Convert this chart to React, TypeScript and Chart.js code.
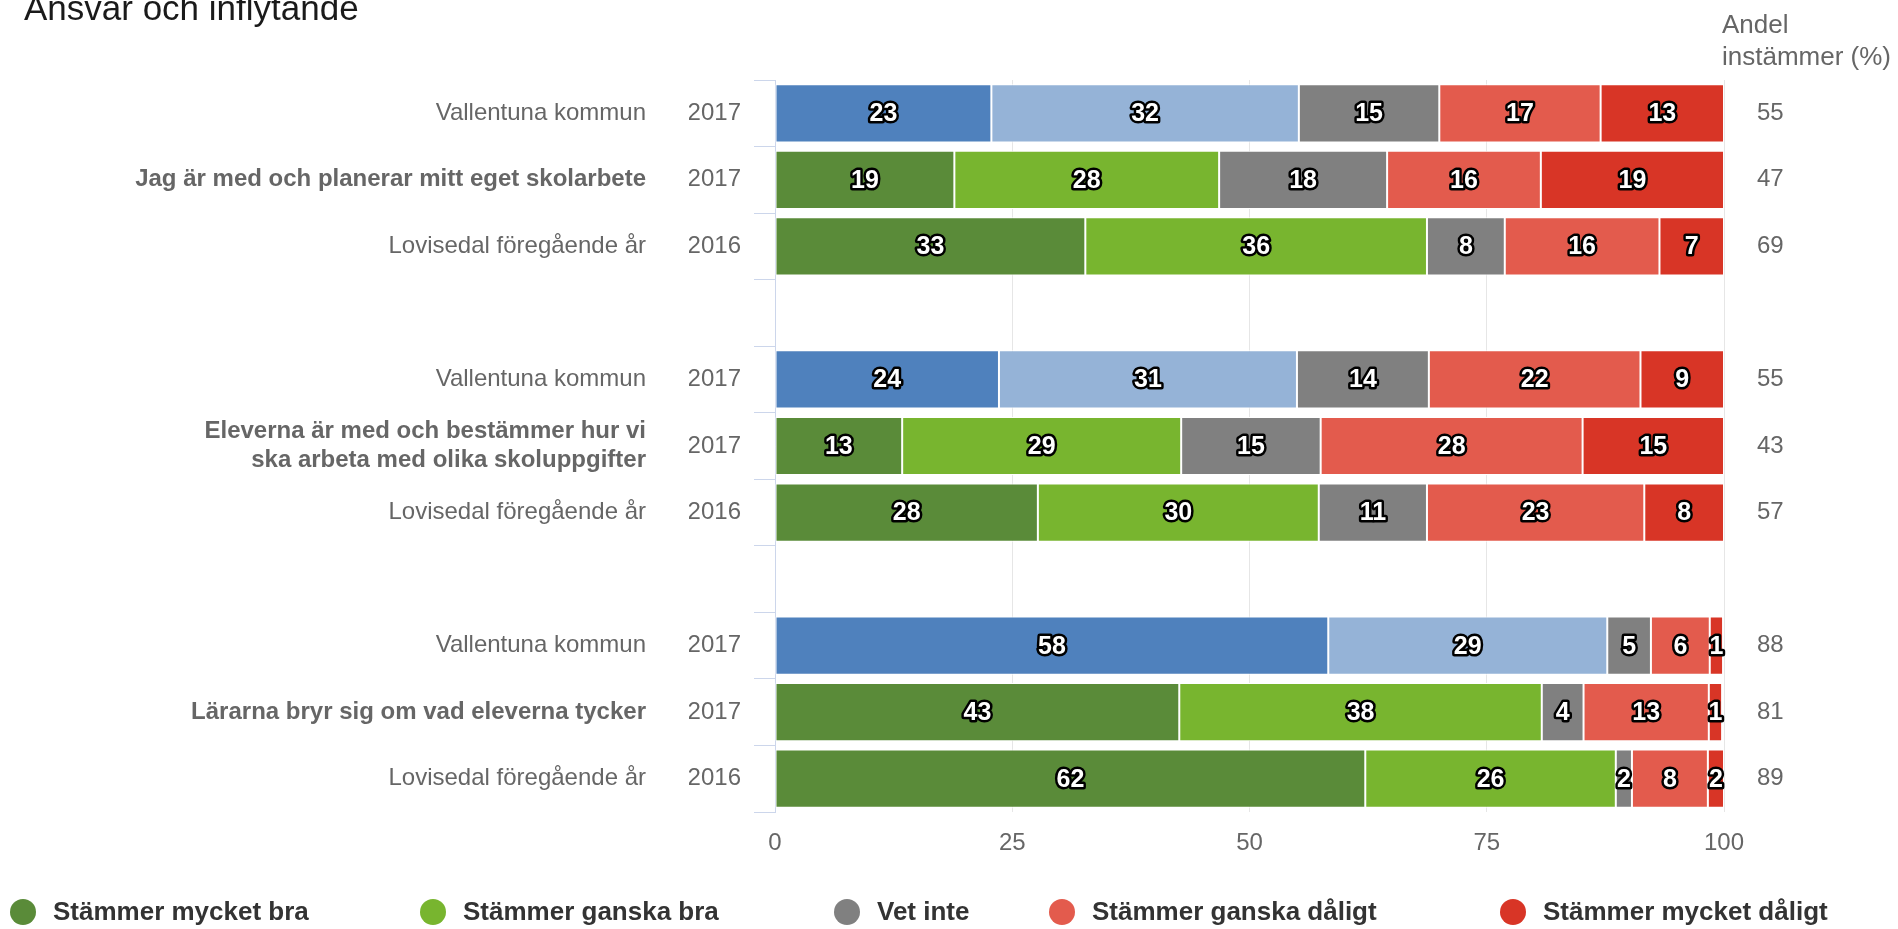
import React, { useEffect, useRef } from "react";
import { Chart, registerables } from "chart.js";

Chart.register(...registerables);

// ---- Data ----
const rowKeys = ["r0", "r1", "r2", "g1", "r4", "r5", "r6", "g2", "r8", "r9", "r10"];
const groupLabels: (string | string[])[] = [
  "Vallentuna kommun",
  "Jag är med och planerar mitt eget skolarbete",
  "Lovisedal föregående år",
  "",
  "Vallentuna kommun",
  ["Eleverna är med och bestämmer hur vi", "ska arbeta med olika skoluppgifter"],
  "Lovisedal föregående år",
  "",
  "Vallentuna kommun",
  "Lärarna bryr sig om vad eleverna tycker",
  "Lovisedal föregående år",
];
const yearLabels = ["2017", "2017", "2016", "", "2017", "2017", "2016", "", "2017", "2017", "2016"];
const andelLabels = ["55", "47", "69", "", "55", "43", "57", "", "88", "81", "89"];
const boldRows = [1, 5, 9];
const kommunRows = [0, 4, 8];

const seriesNames = [
  "Stämmer mycket bra",
  "Stämmer ganska bra",
  "Vet inte",
  "Stämmer ganska dåligt",
  "Stämmer mycket dåligt",
];
const mycketBra = [22.8, 18.9, 32.7, null, 23.6, 13.4, 27.7, null, 58.3, 42.6, 62.2];
const ganskaBra = [32.4, 27.9, 36.0, null, 31.4, 29.4, 29.6, null, 29.4, 38.2, 26.4];
const vetInte = [14.8, 17.7, 8.2, null, 13.9, 14.7, 11.4, null, 4.6, 4.4, 1.7];
const ganskaDaligt = [17.0, 16.2, 16.3, null, 22.3, 27.6, 22.9, null, 6.2, 13.2, 8.0];
const mycketDaligt = [13.0, 19.3, 6.8, null, 8.8, 14.9, 8.4, null, 1.4, 1.4, 1.7];
const xTicks = [0, 25, 50, 75, 100];

const seriesColors = ["#5a8b39", "#78b52f", "#808080", "#e35b4d", "#d83526"];
const kommunColors = ["#4f81bd", "#95b3d7", "#808080", "#e35b4d", "#d83526"];

const FONT = '"Liberation Sans", Arial, Helvetica, sans-serif';

const legendX = [23, 433, 847, 1062, 1513];

const overlayPlugin = {
  id: "overlay",
  afterDatasetsDraw(chart: any) {
    const ctx = chart.ctx;
    ctx.save();
    ctx.font = `bold 25px ${FONT}`;
    ctx.textAlign = "center";
    ctx.textBaseline = "middle";
    ctx.lineJoin = "round";
    ctx.lineWidth = 5;
    ctx.strokeStyle = "#000";
    ctx.fillStyle = "#fff";
    chart.data.datasets.forEach((ds: any, i: number) => {
      const meta = chart.getDatasetMeta(i);
      meta.data.forEach((bar: any, j: number) => {
        const v = ds.data[j];
        if (v == null) return;
        const p = bar.getProps(["x", "y", "base"], true);
        const cx = (p.x + p.base) / 2;
        const t = String(Math.round(v));
        ctx.strokeText(t, cx, p.y + 1);
        ctx.fillText(t, cx, p.y + 1);
      });
    });
    ctx.restore();
  },
  afterDraw(chart: any) {
    const ctx = chart.ctx;
    ctx.save();
    // Title
    ctx.font = `35px ${FONT}`;
    ctx.fillStyle = "#1a1a1a";
    ctx.textAlign = "left";
    ctx.textBaseline = "alphabetic";
    ctx.fillText("Ansvar och inflytande", 24, 20);
    // Right header
    ctx.font = `26px ${FONT}`;
    ctx.fillStyle = "#666666";
    ctx.fillText("Andel", 1722, 33);
    ctx.fillText("instämmer (%)", 1722, 65);
    // Legend
    ctx.font = `bold 26px ${FONT}`;
    ctx.textBaseline = "middle";
    chart.data.datasets.forEach((ds: any, i: number) => {
      const cx = legendX[i];
      const cy = 912;
      ctx.beginPath();
      ctx.arc(cx, cy, 13, 0, Math.PI * 2);
      ctx.fillStyle = seriesColors[i];
      ctx.fill();
      ctx.fillStyle = "#333333";
      ctx.fillText(ds.label, cx + 30, cy + 1);
    });
    ctx.restore();
  },
};

export default function App() {
  const ref = useRef<HTMLCanvasElement | null>(null);
  useEffect(() => {
    document.body.style.margin = "0";
    if (!ref.current) return;
    const seriesData = [mycketBra, ganskaBra, vetInte, ganskaDaligt, mycketDaligt];
    const chart = new Chart(ref.current, {
      type: "bar",
      data: {
        labels: rowKeys,
        datasets: seriesData.map((d, i) => ({
          label: seriesNames[i],
          data: d as any,
          xAxisID: "x",
          yAxisID: "y",
          backgroundColor: rowKeys.map((_, j) => (kommunRows.includes(j) ? kommunColors[i] : seriesColors[i])),
          borderColor: "#ffffff",
          borderWidth: 1,
          borderSkipped: false,
          categoryPercentage: 0.875,
          barPercentage: 1,
        })),
      },
      options: {
        indexAxis: "y",
        responsive: false,
        animation: false,
        devicePixelRatio: 1,
        layout: { padding: { top: 80, left: 0, right: 0, bottom: 0 } },
        plugins: {
          legend: { display: false },
          tooltip: { enabled: false },
          title: { display: false },
        },
        scales: {
          x: {
            type: "linear",
            stacked: true,
            min: 0,
            max: 100,
            position: "bottom",
            afterBuildTicks: (s: any) => {
              s.ticks = xTicks.map((v) => ({ value: v }));
            },
            afterFit: (s: any) => {
              s.height = 117;
            },
            ticks: {
              font: { family: FONT, size: 24 },
              color: "#666666",
              padding: 17,
            },
            grid: { color: "#e6e6e6", lineWidth: 1, drawTicks: false },
            border: { display: false },
          },
          y: {
            type: "category",
            stacked: true,
            position: "left",
            weight: 0,
            offset: true,
            afterFit: (s: any) => {
              s.width = 86;
            },
            ticks: {
              callback: (_v: any, i: number) => yearLabels[i],
              font: { family: FONT, size: 24 },
              color: "#666666",
              padding: 13,
              autoSkip: false,
            },
            grid: {
              display: true,
              drawOnChartArea: false,
              drawTicks: true,
              tickLength: 21,
              color: "#ccd6eb",
              offset: true,
            },
            border: { display: true, color: "#ccd6eb" },
          },
          yq: {
            type: "category",
            axis: "y",
            position: "left",
            weight: 1,
            offset: true,
            labels: groupLabels as any,
            afterFit: (s: any) => {
              s.width = 689;
            },
            ticks: {
              font: (c: any) => ({
                family: FONT,
                size: 24,
                weight: boldRows.includes(c.index) ? "bold" : "normal",
                lineHeight: 1.22,
              }),
              color: "#666666",
              padding: 35,
              autoSkip: false,
            },
            grid: { display: false },
            border: { display: false },
          },
          yR: {
            type: "category",
            axis: "y",
            position: "right",
            offset: true,
            labels: andelLabels,
            afterFit: (s: any) => {
              s.width = 174;
            },
            ticks: {
              font: { family: FONT, size: 24 },
              color: "#666666",
              padding: 25,
              autoSkip: false,
            },
            grid: { display: false },
            border: { display: false },
          },
        } as any,
      },
      plugins: [overlayPlugin],
    });
    return () => chart.destroy();
  }, []);
  return (
    <div style={{ width: 1898, height: 929, background: "#fff" }}>
      <canvas ref={ref} width={1898} height={929} style={{ display: "block" }} />
    </div>
  );
}
